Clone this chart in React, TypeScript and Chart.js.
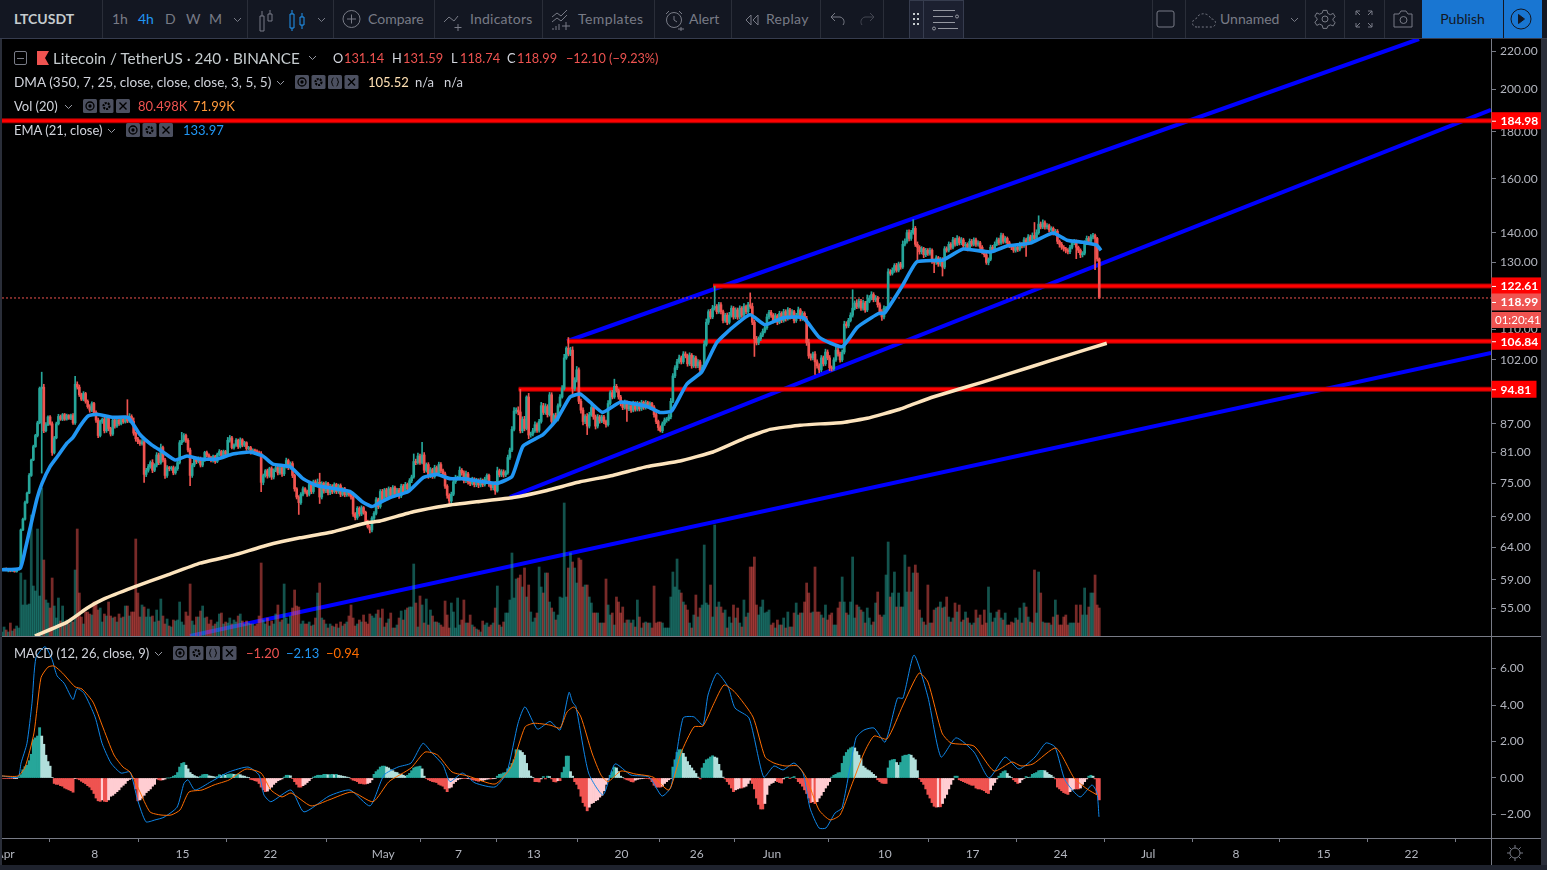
import React, { useEffect, useRef } from "react";
import { Chart, registerables } from "chart.js";

Chart.register(...registerables);

// ---------- time ----------
const firstBarDay = -0.4; // days after 1 Apr
const barsPerDay = 6; // 4h bars
const viewMinDay = -0.4;
const viewMaxDay = 118.34;
const dayTickValues = [-0.15, 7, 14, 21, 30, 36, 42, 49, 55, 61, 70, 77, 84, 91, 98, 105, 112];
const dayTickLabels = ["Apr", "8", "15", "22", "May", "7", "13", "20", "26", "Jun", "10", "17", "24", "Jul", "8", "15", "22"];

// ---------- price ----------
const closes = [
60.5,60.7,60.4,60.6,60.3,60.5,60.2,60.5,60.7,66.8,
68.6,71.5,73.2,76.5,79.5,82.2,84.5,87.2,95.0,95.3,
85.5,86.8,88.5,87.0,81.0,84.0,87.0,88.6,88.0,89.0,
88.0,88.8,88.2,88.8,87.2,96.0,95.3,93.5,92.5,93.8,
92.0,90.8,90.0,91.5,89.5,87.8,84.5,87.5,88.0,85.5,
88.3,86.0,84.8,87.8,86.5,87.8,87.0,88.0,87.4,88.4,
87.6,88.6,87.5,85.0,83.8,83.2,82.8,83.2,76.7,77.5,
78.2,79.0,77.5,78.5,80.5,79.0,82.0,79.5,76.5,78.0,
77.8,78.0,77.0,77.8,79.0,83.0,83.5,84.5,83.5,81.5,
76.5,78.5,79.8,79.2,79.8,78.5,79.5,81.0,80.5,80.0,
79.4,80.2,79.2,80.6,81.2,80.4,81.2,80.7,83.5,84.0,
82.0,82.5,83.5,82.2,83.6,82.5,83.0,81.8,82.0,81.0,
81.5,81.3,81.0,80.8,75.2,76.5,77.4,76.4,77.8,76.2,
77.5,78.0,77.0,78.0,76.8,78.2,79.4,78.0,78.8,76.5,
74.0,72.5,71.5,73.0,74.0,73.5,73.0,74.8,73.5,75.3,
74.7,75.2,72.5,75.0,73.6,75.0,73.3,74.5,73.5,74.8,
73.5,74.6,73.0,74.0,72.9,73.5,73.0,72.5,69.5,68.9,
70.5,69.5,70.6,69.8,68.2,67.3,66.8,68.8,69.6,72.0,
70.8,73.5,72.0,73.8,72.6,74.0,72.8,74.2,73.0,73.8,
72.7,74.5,73.4,74.8,74.0,75.5,76.2,79.2,79.0,80.3,
79.0,80.5,77.5,78.6,76.5,77.6,76.3,78.0,77.0,78.6,
77.4,76.8,74.5,72.8,71.8,73.0,75.3,76.0,76.0,77.5,
77.0,75.5,76.8,75.3,75.0,75.8,74.8,75.6,74.7,75.6,
74.8,75.8,76.5,75.0,74.2,75.0,73.6,77.4,76.6,77.2,
76.6,77.0,80.0,81.5,85.8,89.8,90.0,89.6,85.5,88.0,
86.0,93.0,84.6,84.8,85.5,86.8,85.6,87.5,91.0,89.5,
90.8,89.0,93.5,87.5,88.8,88.0,91.0,93.0,95.0,102.5,
105.0,103.5,104.5,95.0,97.0,99.5,92.0,90.0,87.5,88.6,
86.5,89.0,90.6,88.5,86.5,88.5,87.6,88.5,87.5,86.8,
91.5,94.0,93.0,95.5,94.5,93.0,91.5,90.6,91.8,90.3,
91.0,90.0,91.6,90.2,91.5,90.3,91.8,90.6,91.7,90.9,
91.5,90.7,89.0,87.5,86.2,85.5,87.0,87.8,88.0,88.5,
92.0,98.0,100.0,101.5,102.5,101.5,103.5,103.0,101.0,103.2,
100.5,102.5,100.5,101.5,99.5,100.2,106.0,112.0,115,113.5,
116,116.5,115,117,115,112.5,114,112,114,116,
113.5,115.5,113.5,116,114,116.5,115,117,116.5,112,
107.5,106.5,107.5,108.5,109.5,110.5,113.5,114.8,114,112.5,
113.8,112,114.5,112.5,115,113,115.5,113.5,115,112.5,
114,115.5,113,114.5,113,106.5,103,102.5,103.5,101.5,
100.5,99.5,102.5,101,104,102.5,100,99.8,102,104.5,
103.5,102,104,111.5,111,112.5,114,116,117.5,116.5,
118,116,117.5,115.5,118,119,120,118.5,119,117,
115,113.5,116,116,127,126.5,127.5,129,127.5,129.5,
128.5,136,137,140,138,140,141.5,136,135,133.5,
134.5,132.5,134,133,134,130.5,130,131.5,129.5,131,
128.5,134.5,134,136,135,137.5,136,138,136.5,137.5,
135.5,136,134.5,137,136,137.5,136,136.5,135,133.5,
132.5,130,131,135,134,136,137.5,136.5,139,137,
138,136.5,135.5,135,134,135,134.3,136,135.5,137.5,
136.5,138.5,137,139,138,140,143,142,143.5,142,
142.5,141,141.5,140,140.5,137,136,135,134.5,134,
133.5,135,136.5,137,135,134,132.5,133,136.5,138,
137,138.5,139,138,131.14,118.99,
];

// upper and lower wick lengths, in tenths of a percent of the candle body edge
const upperWicks = [
2,1,2,1,2,1,2,1,3,4, 5,6,5,8,4,6,5,7,6,38, 12,9,5,6,8,6,7,9,6,5, 5,6,4,6,8,20,10,9,7,8,
5,6,8,7,5,6,8,6,5,9, 6,8,5,6,7,4,6,5,4,6, 45,12,7,15,5,6,8,9,10,8, 9,7,12,6,10,8,15,6,7,9,
5,6,7,8,6,9,20,8,6,7, 8,7,6,5,7,6,8,5,6,5, 5,6,5,6,8,5,6,5,12,10, 6,5,7,5,8,5,6,4,5,5,
5,4,5,6,8,6,5,7,6,8, 6,7,5,8,6,7,10,6,7,8, 6,5,6,7,8,5,6,9,6,7, 8,14,23,7,6,8,5,7,6,7,
5,6,7,5,6,6,5,6,8,6, 7,6,8,5,5,6,7,6,8,9, 7,8,9,6,7,8,6,9,7,6, 6,8,7,9,6,9,8,19,10,12,
8,32,10,7,8,9,6,10,7,10, 8,7,8,6,7,9,10,12,8,14, 7,8,12,6,7,8,6,8,6,9, 5,8,7,6,5,6,8,15,7,9,
8,9,10,8,12,14,10,14,58,10, 12,5,15,8,10,12,8,9,14,10, 12,8,10,9,8,10,8,10,12,15, 6,27,12,14,10,14,8,9,10,8,
12,10,10,9,8,10,7,8,7,6, 12,8,10,18,8,6,7,8,9,6, 7,6,8,6,9,6,8,5,9,6, 7,5,6,8,6,7,8,9,7,10,
12,10,9,10,12,8,10,9,8,10, 7,10,8,9,7,8,15,14,8,10, 12,52,8,10,9,7,8,9,12,10, 7,9,8,10,7,12,6,10,30,14,
8,10,8,9,10,12,12,8,9,7, 10,6,9,7,10,8,10,7,9,6, 8,12,6,8,7,10,14,9,8,10, 8,9,10,8,12,9,10,8,9,12,
10,8,9,12,10,9,10,47,9,14, 9,8,12,7,16,10,12,8,10,7, 8,9,10,8,12,9,10,8,9,8, 7,14,10,11,12,10,22,8,10,7,
9,6,8,7,9,6,7,9,6,8, 7,9,8,10,7,11,8,12,7,10, 7,8,6,10,8,9,7,8,6,7, 7,8,6,9,8,10,9,7,10,8,
8,6,7,6,8,7,8,9,7,10, 8,10,8,11,33,12,21,9,12,8, 8,6,7,6,8,7,6,8,7,6, 7,8,9,8,6,5,6,7,9,10,
8,10,9,6,5,4,
];
const lowerWicks = [
2,3,2,6,3,2,2,2,1,2, 3,4,3,2,4,3,3,6,4,190, 8,5,4,6,12,6,4,5,5,6, 5,4,5,6,6,6,8,7,6,7,
8,7,9,6,7,10,9,6,8,9, 7,10,8,6,9,6,7,5,6,5, 7,6,8,9,10,8,7,6,20,9, 8,7,10,6,8,9,7,8,12,8,
9,7,8,6,7,6,8,7,9,8, 25,8,7,9,6,8,7,6,8,7, 6,7,8,5,6,7,5,6,7,8, 6,7,5,8,6,7,6,8,5,7,
5,6,7,8,23,10,7,9,6,10, 8,6,9,7,10,7,6,8,7,9, 10,8,29,8,7,8,9,7,9,8, 7,8,16,8,9,7,10,8,9,7,
9,8,10,7,8,7,8,9,10,10, 8,9,7,8,9,5,12,8,7,6, 9,7,8,7,9,7,8,7,9,7, 10,7,8,6,7,6,8,5,9,7,
8,6,10,8,12,9,8,7,9,7, 8,9,10,12,15,9,6,7,9,8, 10,9,8,10,9,7,10,9,11,8, 9,7,9,12,10,9,14,5,8,7,
9,7,6,8,7,6,10,12,9,8, 10,6,15,9,8,7,9,8,7,9, 8,10,6,12,9,10,7,6,5,7, 6,8,7,16,9,8,10,12,14,9,
21,8,7,10,12,8,9,7,9,10, 6,7,8,6,7,9,10,9,7,31, 8,9,7,8,7,9,7,8,7,8, 7,9,10,9,12,5,8,7,9,7,
8,6,7,8,7,9,7,8,10,7, 10,7,9,8,10,8,6,7,9,8, 7,8,9,7,9,10,8,10,7,8, 9,7,10,7,9,6,8,7,8,10,
43,10,9,8,7,6,7,8,9,10, 7,10,6,9,7,10,6,9,7,10, 8,6,9,7,10,12,10,9,8,31, 10,12,8,9,7,8,12,10,7,6,
9,10,7,8,9,7,6,8,7,9, 7,9,8,10,7,6,8,9,8,10, 12,14,8,9,6,8,7,9,8,7, 9,6,7,8,10,8,7,9,36,10,
9,12,8,9,8,10,25,8,10,9, 22,7,8,7,9,7,8,6,9,8, 10,8,9,7,8,7,9,8,10,9, 9,8,10,6,8,7,6,9,7,9,
7,9,8,10,9,8,9,7,9,7, 33,7,9,7,8,6,7,8,7,9, 8,9,7,10,8,10,12,9,10,11, 9,8,7,8,28,10,12,9,7,8,
9,7,8,75,9,2,
];

// volume, thousands
const volumes = [
12,27,18,12,39,15,21,30,24,189, 93,168,93,96,363,150,135,321,120,444, 228,108,99,84,174,90,54,114,45,90, 36,48,36,54,42,198,321,129,57,36,
72,72,66,63,102,102,78,84,42,66, 60,102,60,54,57,42,66,54,57,90, 90,60,72,72,291,129,57,93,87,57, 81,57,60,42,78,45,111,60,36,51,
30,27,48,45,48,102,42,33,72,60, 156,45,33,57,57,75,90,54,57,36, 48,30,36,42,66,69,36,42,39,54, 36,48,42,60,66,45,36,45,39,36,
36,30,36,60,219,48,36,54,30,45, 36,66,93,42,48,156,54,36,60,84, 138,90,87,36,45,36,36,42,30,33, 54,129,159,54,48,36,24,36,30,27,
36,24,42,30,36,42,60,93,54,30, 36,48,42,63,42,36,66,60,54,66, 78,54,81,27,39,51,69,24,24,33, 54,75,48,78,84,87,87,216,99,27,
120,93,39,111,33,78,60,42,42,39, 33,27,105,63,24,99,72,24,114,33, 48,108,39,39,63,33,27,21,18,12, 45,33,39,27,33,39,84,150,33,27,
42,69,69,108,249,114,171,174,183,147, 204,117,153,72,42,54,69,207,147,129, 189,189,102,84,72,48,63,117,114,399, 117,204,249,222,204,159,234,228,147,153,
153,117,99,69,69,69,39,39,39,171, 93,63,69,33,117,102,69,87,39,48, 48,39,48,27,108,57,24,39,42,39, 39,24,150,39,42,42,39,24,24,24,
117,192,147,231,138,129,102,93,78,39, 24,63,123,57,84,93,273,99,93,153, 57,333,87,102,87,69,78,24,57,39, 93,54,84,39,27,108,57,69,207,207,
237,93,63,87,108,69,72,78,33,39, 24,48,33,33,54,24,72,27,27,69, 99,63,69,69,102,159,129,69,72,207, 72,72,63,54,93,48,63,69,33,33,
84,102,177,102,69,63,102,237,54,93, 87,78,72,39,84,54,33,42,99,132, 63,57,63,183,282,117,129,192,87,129, 87,87,243,132,207,132,189,213,189,78,
54,42,33,153,39,39,78,84,87,102, 84,87,117,57,42,54,99,72,93,42, 48,72,54,39,33,39,78,54,63,33, 78,39,147,69,42,54,72,78,54,48,
69,33,33,42,39,54,48,84,39,99, 87,57,42,39,198,69,192,129,42,39, 39,39,33,57,108,63,33,33,57,63, 33,39,39,39,93,39,93,63,144,63,
87,129,129,183,93,84,
];

// ---------- moving averages ----------
const emaDays = [-0.4,1.04,1.44,1.83,2.39,2.79,3.43,3.99,4.78,5.26,5.82,6.46,7.18,8.45,9.65,10.6,11.56,12.44,13.4,14.35,15.39,16.75,18.0,19.38,20.4,21.2,22.57,23.6,24.7,27.35,28.3,29.1,29.74,30.54,32.0,33.2,34.3,35.3,36.36,37.96,39.07,40.27,41.15,42.74,43.86,44.9,45.7,46.5,47.5,48.9,51.0,52.07,53.0,54.2,55.4,56.6,57.66,59.25,60.45,61.9,63.5,64.8,66.6,67.8,69.46,70.0,71.45,72.56,74.64,76.24,78.4,79.75,81.6,83.4,84.53,85.8,86.9,87.24];
const emaValues = [60.5,60.7,63.5,67.0,72.2,75.0,78.2,80.1,82.9,84.1,86.5,88.7,89.1,88.4,88.4,84.7,82.5,81.1,79.5,80.3,79.7,79.7,80.7,81.1,80.3,78.7,78.2,75.9,74.6,73.5,71.7,70.8,71.5,72.4,73.5,76.1,76.7,75.9,75.9,75.3,75.0,76.3,82.3,84.7,88.0,93.0,93.7,91.8,89.5,91.8,90.9,89.5,89.8,96.0,99.0,106.5,110,114.1,111.3,113.3,113.3,107.8,105.4,110.6,114.4,114.7,123,130.2,130.8,134.4,133.4,135.4,136.4,139.9,137.4,136.7,135.7,133.97];

const dmaDays = [2.23,4.8,6.4,7.65,10.05,12.76,15.4,18.02,20.73,23.37,26.0,28.7,29.74,32.4,35.1,37.7,40.35,43.06,45.7,48.3,51.0,53.67,56.3,59.0,60.85,63.24,66.67,68.6,71.2,73.84,77.8,81.8,84.5,87.7];
const dmaValues = [51.3,53.1,55,56.2,57.9,59.7,61.5,62.7,64.3,65.5,66.5,68.0,68.3,69.9,71.0,71.7,72.4,73.7,75.3,76.5,78.2,79.3,81.1,84.1,85.8,86.7,87.3,88.2,90.2,93.0,96.5,100.4,103.1,106.3];

// ---------- drawings ----------
const channelLines = [
  { days: [44.66, 112.6], prices: [106.84, 226.7] },
  { days: [40.11, 118.34], prices: [72.5, 190.0] },
  { days: [14.59, 118.34], prices: [51.3, 103.8] },
];
const levelLines = [
  { from: -0.4, price: 184.98 },
  { from: 56.3, price: 122.61 },
  { from: 44.66, price: 106.84 },
  { from: 40.8, price: 94.81 },
];
const lastPrice = 118.99;

// ---------- axis ----------
const priceTicks = [220, 200, 180, 160, 140, 130, 120, 110, 102, 87, 81, 75, 69, 64, 59, 55];
const macdTicks = [6, 4, 2, 0, -2];
const levelBadges = [184.98, 122.61, 106.84, 94.81];
const priceMin = 51.3;
const priceMax = 226.7;
const volumeMax = 1791;
const macdMin = -3.29;
const macdMax = 7.73;

// ---------- MACD ----------
const macdDays = [-0.4,.88,1.12,1.59,1.99,2.31,3.03,3.59,3.99,4.55,5.26,5.58,6.14,7.02,7.58,8.29,9.09,9.81,10.41,11.08,11.8,12.52,13.56,14.11,14.43,14.99,16.27,17.7,19.22,20.1,20.49,21.05,22.65,23.68,25.68,27.35,28.95,30.06,31.18,32.22,33.17,33.89,34.77,35.33,36.32,37.32,38.92,39.87,40.75,41.31,42.3,43.3,44.1,44.82,45.1,45.37,46.38,47.53,48.48,49.76,51.2,52.23,52.95,53.91,54.78,55.5,55.9,56.62,57.5,58.05,59.17,60.34,61.16,61.88,62.76,63.48,64.03,64.75,65.31,66.03,66.59,67.7,68.34,69.14,70.02,71.01,71.45,72.33,73.44,74.48,75.68,77.11,78.31,79.59,80.7,81.98,82.85,83.57,84.37,85.57,86.52,86.92,87.08];
const macdValues = [.11,.05,.82,1.9,4.1,6.6,7.2,6.5,5.6,5.2,4.3,4.9,4.65,3.35,1.9,.82,.27,.33,-1.2,-2.4,-2.3,-2.15,-1.6,-.3,-.1,-.66,-.2,.33,.6,.16,-.93,-1.3,-.66,-1.86,-.99,-.66,-1.53,.16,.6,.82,1.9,1.37,.71,-.2,.27,-.27,-.49,.33,3.0,3.9,2.68,3.1,2.63,4.7,4.16,3.9,.27,-.93,.77,.16,.05,-.99,-.49,3.29,3.35,2.9,4.55,5.75,5.0,3.84,3.29,.05,.66,.44,.82,.27,-1.64,-2.74,-2.74,-1.92,-1.64,2.2,2.63,2.74,1.97,4.38,4.38,6.74,4.44,1.15,2.2,1.42,0,1.15,.49,1.15,1.92,1.7,-.11,-1.04,-.38,-.82,-2.13];

const signalDays = [-.4,.88,1.44,2.15,2.71,3.27,3.75,4.43,5.42,5.98,6.86,7.58,8.53,9.25,9.81,10.53,11.4,12.28,13.08,13.8,14.51,15.55,16.51,17.7,19.06,20.26,21.05,21.93,22.65,24.24,25.68,27.51,29.19,30.46,32.22,33.33,34.33,35.49,36.76,38.92,40.19,41.31,42.03,43.3,44.1,44.66,45.22,45.77,46.65,47.37,47.93,48.96,50.08,51.52,52.79,53.75,54.78,55.5,56.38,57.18,58.05,59.49,60.45,61.16,62.04,63.04,63.71,64.75,65.63,66.43,67.3,68.34,69.14,70.18,71.45,72.73,73.44,74.56,75.28,77.11,78.71,80.14,80.86,81.82,83.65,85.09,86.12,86.96];
const signalValues = [.11,.11,.6,2.47,5.5,6.08,6.14,5.75,5.0,4.88,4.16,2.9,1.26,.6,.33,-.66,-1.86,-2.03,-2.03,-1.75,-.77,-.66,-.38,-.11,.49,.27,-.66,-1.04,-.82,-1.53,-1.2,-.77,-1.3,-.2,.55,1.42,1.26,.33,.11,-.33,.6,2.8,3.0,2.9,2.74,3.62,3.89,3.34,1.37,.16,-.2,.38,.22,.05,-.66,1.37,2.8,2.85,4.1,5.1,4.7,3.34,1.15,.82,.66,.66,.05,-1.75,-2.3,-2.03,-.49,1.37,2.3,2.14,4.0,5.75,5.26,2.47,1.92,1.75,.38,.88,.66,.77,1.64,0,-.6,-.94];

const histogram = [
-.03,-.03,-.03,-.03,-.03,-.03,-.02,-.01,.05,.18, .45,.62,.7,.95,1.3,2.1,2.2,2.3,2.76,2.3,
1.85,1.25,.9,.65,.02,-.3,-.35,-.35,-.42,-.45, -.55,-.6,-.65,-.7,-.78,-.02,-.05,-.1,-.18,-.25,
-.32,-.42,-.5,-.65,-.85,-1.1,-1.25,-1.28,-1.2,-1.28, -1.3,-1.2,-1,-.95,-.85,-.75,-.65,-.5,-.4,-.3,
-.15,-.08,-.03,-.02,-.6,-1.25,-1.2,-1.1,-.95,-.8, -.7,-.6,-.45,-.35,-.05,-.1,-.12,-.1,-.06,0,
0,.02,.1,.15,.3,.6,.8,.85,.7,.5, .3,.2,.13,.08,.05,.1,.18,.2,.2,.12,
.1,.08,.05,.08,.18,.13,.2,.15,.2,.22, .22,.2,.2,.22,.18,.12,.1,.05,.02,-.08,
-.1,-.15,-.18,-.3,-.5,-.65,-.75,-.72,-.6,-.5, -.35,-.25,-.15,-.1,-.05,.05,.15,.15,.12,-.03,
-.2,-.35,-.5,-.5,-.42,-.35,-.25,-.15,-.03,.05, .1,.15,.15,.15,.2,.2,.18,.18,.2,.18,
.2,.15,.13,.1,.08,.05,.03,-.05,-.12,-.15, -.2,-.3,-.3,-.33,-.33,-.3,-.25,-.1,.2,.35,
.45,.6,.65,.65,.6,.55,.45,.4,.32,.3, .22,.2,.15,.1,.15,.25,.4,.55,.6,.62,
.65,.5,.1,-.03,-.1,-.15,-.2,-.22,-.25,-.35, -.4,-.45,-.6,-.75,-.55,-.5,-.3,-.2,-.1,-.05,
-.03,-.03,-.03,-.02,-.05,-.1,-.12,-.15,-.18,-.15, -.13,-.1,-.07,-.05,-.05,-.04,-.03,.1,.2,.22,
.28,.3,.5,.6,.8,1,1.55,1.55,1.5,1.4, 1.25,.8,.4,.1,.02,-.2,-.2,-.22,-.05,.08,
-.05,.1,.08,-.05,-.2,-.22,-.15,-.15,.3,.6, 1.2,1.2,.35,.1,-.2,-.35,-.6,-1,-1.35,-1.55,
-1.8,-1.6,-1.4,-1.35,-1.25,-1.2,-1.05,-.95,-.7,-.35, -.1,.15,.35,.6,.55,.35,.1,.03,-.05,-.1,
-.13,-.2,-.22,-.12,-.08,-.05,-.04,-.03,-.03,-.03, -.05,-.2,-.4,-.5,-.5,-.5,-.45,-.3,-.2,-.1,
-.03,.6,1,1.4,1.55,1.55,1.35,1.15,.9,.7, .55,.4,.25,.05,-.05,.55,.8,1,1.05,1.15,
1.22,1.15,1.1,.75,.4,.05,-.05,-.2,-.35,-.55, -.75,-.65,-.6,-.55,-.55,-.5,-.45,-.3,-.12,-.3,
-.6,-1.1,-1.45,-1.7,-1.7,-1.4,-.9,-.4,-.3,-.25, -.15,-.2,-.25,-.28,-.05,.02,.05,-.02,.02,.08,
-.03,-.2,-.3,-.45,-.65,-.85,-1.1,-1.35,-1.3,-1.4, -1.3,-1.1,-.95,-.75,-.55,-.4,-.2,.05,.15,.2,
.28,.3,.8,1.2,1.4,1.55,1.65,1.7,1.65,1.45, 1.25,1.05,.65,.55,.45,.4,.3,.2,.1,-.1,
-.2,-.28,-.3,-.3,.55,.95,1,1.02,.85,.7, .85,1.2,1.25,1.25,1.3,1.25,1.1,1,.4,-.05,
-.2,-.35,-.6,-.9,-1.1,-1.35,-1.55,-1.6,-1.58,-1.58, -1.4,-1.1,-.9,-.6,-.35,-.1,.1,.1,-.1,-.15,
-.2,-.25,-.3,-.35,-.4,-.4,-.55,-.6,-.6,-.65, -.7,-.8,-.85,-.65,-.4,-.25,-.05,.1,.25,.35,
.4,.25,.1,.03,-.1,-.2,-.3,-.25,-.1,-.03, .08,.03,.05,.2,.25,.3,.4,.42,.42,.4,
.3,.2,.15,.05,-.05,-.5,-.6,-.7,-.8,-.85, -.9,-.75,-.65,-.6,-.6,-.6,-.55,-.35,-.2,-.05,
.1,.15,.1,-.05,-.9,-1.2,
];

// ---------- styles ----------
const FONT = "Lato, 'Open Sans', sans-serif";
const UP = "#26a69a";
const DOWN = "#ef5350";
const AXIS = "#787b86";
const TICK_TEXT = "#b2b5be";
const BLUE_LINE = "#0000ff";
const RED_LINE = "#ff0000";

const barDay = (i: number) => firstBarDay + i / barsPerDay;
const opens = closes.map((c, i) => (i === 0 ? c : closes[i - 1]));
const isUp = closes.map((c, i) => c >= opens[i]);
const candleColors = isUp.map((u) => (u ? UP : DOWN));
const volumeColors = isUp.map((u) => (u ? "rgba(38,166,154,0.5)" : "rgba(239,83,80,0.5)"));
const histColors = histogram.map((h, i) => {
  const prev = i === 0 ? 0 : histogram[i - 1];
  if (h >= 0) return h >= prev ? "#26a69a" : "#b2dfdb";
  return h <= prev ? "#ef5350" : "#ffcdd2";
});

const zip = (xs: number[], ys: number[]) => xs.map((x, i) => ({ x, y: ys[i] }));
const wickShare = (w: number) => (w <= 15 ? w * 0.6 : w) / 1000;

const stripPadding = (s: any) => {
  s.paddingLeft = 0;
  s.paddingRight = 0;
  s.paddingTop = 0;
  s.paddingBottom = 0;
};

const lineBase = { type: "line" as const, pointRadius: 0, pointHoverRadius: 0, fill: false };

function badge(ctx: CanvasRenderingContext2D, x: number, y: number, w: number, h: number, bg: string, text: string) {
  ctx.save();
  ctx.fillStyle = bg;
  ctx.fillRect(x, y - h / 2, w, h);
  ctx.fillStyle = "#ffffff";
  ctx.font = `bold 12px ${FONT}`;
  ctx.textBaseline = "middle";
  ctx.textAlign = "left";
  ctx.fillText(text, x + 9, y + 0.5);
  ctx.restore();
}

const badgePlugin = {
  id: "priceBadges",
  afterDraw(chart: any) {
    const { ctx } = chart;
    const y = chart.scales.y;
    const x = chart.chartArea.right;
    levelBadges.forEach((p) => {
      const py = y.getPixelForValue(p);
      const w = p === 94.81 ? 45 : 56;
      badge(ctx, x + 0.5, py, w, 17, RED_LINE, p.toFixed(2));
      ctx.fillStyle = "#ffffff";
      ctx.fillRect(x + 1, py, 4, 1);
    });
    const lp = y.getPixelForValue(lastPrice);
    badge(ctx, x + 0.5, lp + 4, 56, 17, DOWN, lastPrice.toFixed(2));
    ctx.fillStyle = "#ffffff";
    ctx.fillRect(x + 1, lp + 4, 4, 1);
    ctx.fillStyle = DOWN;
    ctx.fillRect(x + 0.5, lp + 14, 56, 16);
    ctx.fillStyle = "#ffffff";
    ctx.font = `11.5px ${FONT}`;
    ctx.textBaseline = "middle";
    ctx.textAlign = "left";
    ctx.fillText("01:20:41", x + 4, lp + 22.5);
  },
};

function usePriceChart(ref: React.RefObject<HTMLCanvasElement | null>) {
  useEffect(() => {
    const hi = (i: number) => Math.max(opens[i], closes[i]) * (1 + wickShare(upperWicks[i]));
    const lo = (i: number) => Math.min(opens[i], closes[i]) * (1 - wickShare(lowerWicks[i]));
    const barIdx = closes.map((_, i) => i);
    const chart = new Chart(ref.current as HTMLCanvasElement, {
      type: "bar",
      plugins: [badgePlugin],
      data: {
        datasets: [
          { ...lineBase, order: 1, data: zip(dmaDays, dmaValues), borderColor: "#fde4bd", borderWidth: 3.5, tension: 0.1, yAxisID: "y" },
          { ...lineBase, order: 2, data: zip(emaDays, emaValues), borderColor: "#2196f3", borderWidth: 3.6, tension: 0.15, yAxisID: "y" },
          { order: 3, data: barIdx.map((i) => ({ x: barDay(i), y: [opens[i], closes[i]] })), backgroundColor: candleColors, barThickness: 2, minBarLength: 1, grouped: false, yAxisID: "y" },
          { order: 4, data: barIdx.map((i) => ({ x: barDay(i), y: [lo(i), hi(i)] })), backgroundColor: candleColors, barThickness: 1, grouped: false, yAxisID: "y" },
          { order: 5, data: barIdx.map((i) => ({ x: barDay(i), y: volumes[i] })), backgroundColor: volumeColors, barThickness: 2.09, grouped: false, yAxisID: "vol" },
          { ...lineBase, order: 6, data: [{ x: viewMinDay, y: lastPrice }, { x: viewMaxDay, y: lastPrice }], borderColor: DOWN, borderWidth: 1, borderDash: [2, 2], yAxisID: "y" },
          ...levelLines.map((l) => ({ ...lineBase, order: 7, data: [{ x: l.from, y: l.price }, { x: viewMaxDay, y: l.price }], borderColor: RED_LINE, borderWidth: 3, yAxisID: "y" })),
          ...levelLines.map((l) => ({ ...lineBase, order: 8, data: [{ x: l.from, y: l.price }, { x: viewMaxDay, y: l.price }], borderColor: "#a00000", borderWidth: 5, yAxisID: "y" })),
          ...channelLines.map((l) => ({ ...lineBase, order: 9, data: zip(l.days, l.prices), borderColor: BLUE_LINE, borderWidth: 4, yAxisID: "y" })),
        ],
      } as any,
      options: {
        animation: false,
        responsive: false,
        devicePixelRatio: 1,
        layout: { padding: { left: 2, right: 0, top: 0, bottom: 0 } },
        plugins: { legend: { display: false }, tooltip: { enabled: false } },
        events: [],
        scales: {
          x: { type: "linear", min: viewMinDay, max: viewMaxDay, display: false, offset: false, grid: { display: false } },
          vol: { type: "linear", min: 0, max: volumeMax, display: false, grid: { display: false } },
          y: {
            type: "logarithmic",
            position: "right",
            min: priceMin,
            max: priceMax,
            bounds: "data",
            afterBuildTicks: (s: any) => {
              s.ticks = priceTicks.map((value) => ({ value }));
            },
            afterFit: (s: any) => {
              s.width = 56;
              stripPadding(s);
            },
            border: { color: AXIS, width: 1 },
            grid: { drawOnChartArea: false, drawTicks: true, tickLength: 5, color: AXIS },
            ticks: {
              autoSkip: false,
              padding: 4,
              color: TICK_TEXT,
              font: { family: FONT, size: 12 },
              callback: (v: any) => Number(v).toFixed(2),
            },
          },
        },
      } as any,
    });
    return () => chart.destroy();
  }, [ref]);
}

function useMacdChart(ref: React.RefObject<HTMLCanvasElement | null>) {
  useEffect(() => {
    const chart = new Chart(ref.current as HTMLCanvasElement, {
      type: "bar",
      data: {
        datasets: [
          { ...lineBase, order: 1, data: zip(signalDays, signalValues), borderColor: "#ff6d00", borderWidth: 1, tension: 0.2 },
          { ...lineBase, order: 2, data: zip(macdDays, macdValues), borderColor: "#0f86e8", borderWidth: 1, tension: 0.2 },
          { order: 3, data: histogram.map((h, i) => ({ x: barDay(i), y: h })), backgroundColor: histColors, barThickness: 2.2, grouped: false },
        ],
      } as any,
      options: {
        animation: false,
        responsive: false,
        devicePixelRatio: 1,
        layout: { padding: { left: 2, right: 0, top: 0, bottom: 0 } },
        plugins: { legend: { display: false }, tooltip: { enabled: false } },
        events: [],
        scales: {
          x: {
            type: "linear",
            min: viewMinDay,
            max: viewMaxDay,
            offset: false,
            afterBuildTicks: (s: any) => {
              s.ticks = dayTickValues.map((value) => ({ value }));
            },
            afterFit: (s: any) => {
              s.height = 27;
              stripPadding(s);
            },
            border: { color: AXIS, width: 1 },
            grid: { drawOnChartArea: false, drawTicks: true, tickLength: 4, color: AXIS },
            ticks: {
              autoSkip: false,
              maxRotation: 0,
              padding: 5,
              color: TICK_TEXT,
              font: { family: FONT, size: 12 },
              callback: (v: any) => dayTickLabels[dayTickValues.indexOf(Number(v))] ?? "",
            },
          },
          y: {
            type: "linear",
            position: "right",
            min: macdMin,
            max: macdMax,
            afterBuildTicks: (s: any) => {
              s.ticks = macdTicks.map((value) => ({ value }));
            },
            afterFit: (s: any) => {
              s.width = 56;
              stripPadding(s);
            },
            border: { color: AXIS, width: 1 },
            grid: { drawOnChartArea: false, drawTicks: true, tickLength: 5, color: AXIS },
            ticks: {
              autoSkip: false,
              padding: 4,
              color: TICK_TEXT,
              font: { family: FONT, size: 12 },
              callback: (v: any) => (Number(v) < 0 ? "\u2212" + Math.abs(Number(v)).toFixed(2) : Number(v).toFixed(2)),
            },
          },
        },
      } as any,
    });
    return () => chart.destroy();
  }, [ref]);
}

// ---------- chrome ----------
const TB = "#787b86";
const abs = (left: number, top: number, extra: React.CSSProperties = {}): React.CSSProperties => ({
  position: "absolute",
  left,
  top,
  whiteSpace: "nowrap",
  ...extra,
});

const Sep = ({ x }: { x: number }) => <div style={abs(x, 0, { width: 1, height: 38, background: "#2a2e39" })} />;
const TbText = ({ x, children, color = TB, size = 14, weight = 400, spacing = 0 }: any) => (
  <span style={abs(x, 9, { color, fontSize: size, fontWeight: weight, lineHeight: "20px", letterSpacing: spacing })}>{children}</span>
);
const Icon = ({ x, y = 8, w = 22, h = 22, children }: any) => (
  <svg style={abs(x, y)} width={w} height={h} viewBox={`0 0 ${w} ${h}`} fill="none" stroke={TB} strokeWidth="1">
    {children}
  </svg>
);
const Chevron = ({ x, y, color = TB }: any) => (
  <svg style={abs(x, y)} width="9" height="6" viewBox="0 0 9 6" fill="none" stroke={color} strokeWidth="1">
    <path d="M1 1l3.5 3.5L8 1" />
  </svg>
);

const Toolbar = () => (
  <div style={abs(0, 0, { width: 1547, height: 38, background: "#131722", fontFamily: FONT })}>
    <span style={abs(14, 9, { color: "#c5cbce", fontWeight: 700, fontSize: 14, lineHeight: "20px" })}>LTCUSDT</span>
    <Sep x={102} />
    <TbText x={112}>1h</TbText>
    <TbText x={138} color="#2196f3">4h</TbText>
    <TbText x={165}>D</TbText>
    <TbText x={186}>W</TbText>
    <TbText x={209}>M</TbText>
    <Chevron x={233} y={17} />
    <Sep x={247} />
    <Icon x={257} h={26}>
      <path d="M3 8h4v15H3zM5 3v5M11 6h4v7h-4zM13 2v4" />
    </Icon>
    <svg style={abs(287, 8)} width="22" height="24" viewBox="0 0 22 24" fill="none" stroke="#2196f3" strokeWidth="1">
      <path d="M3 6h4v14H3zM5 2v4M5 20v3M13 9h4v8h-4zM15 5v4M15 17v4" />
    </svg>
    <Chevron x={317} y={17} />
    <Sep x={333} />
    <Icon x={341}>
      <circle cx="10.5" cy="11" r="8.5" />
      <path d="M10.5 6.5v9M6 11h9" />
    </Icon>
    <TbText x={368}>Compare</TbText>
    <Sep x={434} />
    <Icon x={443} h={26}>
      <path d="M1 14l5-5 5 4 4-5M15 16v7M11.5 19.5h7" />
    </Icon>
    <TbText x={470} spacing={0.2}>Indicators</TbText>
    <Sep x={542} />
    <Icon x={551} h={26}>
      <path d="M1 9l5-4 4 3 6-6M1 14l5-4 4 3 6-6M2 22v-2M5 22v-4M8 22v-6M15 14v8M11 18h8" />
    </Icon>
    <TbText x={578} spacing={0.4}>Templates</TbText>
    <Sep x={654} />
    <Icon x={663} h={26}>
      <circle cx="11" cy="12" r="7.5" />
      <path d="M11 8v4l3 2M3 6l3-3M19 6l-3-3M18 19v4M15 21h6" />
    </Icon>
    <TbText x={689}>Alert</TbText>
    <Sep x={731} />
    <Icon x={743}>
      <path d="M8 7l-5 5 5 5zM15 7l-5 5 5 5z" />
    </Icon>
    <TbText x={766} spacing={0.3}>Replay</TbText>
    <Sep x={820} />
    <Icon x={827}>
      <path d="M5 9h8a5 5 0 0 1 3 8M8 5L4 9l4 4" />
    </Icon>
    <svg style={abs(856, 8)} width="22" height="22" viewBox="0 0 22 22" fill="none" stroke="#434651" strokeWidth="1">
      <path d="M17 9H9a5 5 0 0 0-3 8M14 5l4 4-4 4" />
    </svg>
    <Sep x={883} />
    <div style={abs(909, 0, { width: 55, height: 39, background: "#1c2030", border: "1px solid #363c4e", boxSizing: "border-box" })} />
    <div style={abs(923, 0, { width: 1, height: 39, background: "#363c4e" })} />
    <svg style={abs(913, 12)} width="8" height="16" viewBox="0 0 8 16" fill="#c5cbce">
      <rect x="0" y="1" width="2" height="2" /><rect x="4" y="1" width="2" height="2" />
      <rect x="0" y="6" width="2" height="2" /><rect x="4" y="6" width="2" height="2" />
      <rect x="0" y="11" width="2" height="2" /><rect x="4" y="11" width="2" height="2" />
    </svg>
    <svg style={abs(930, 8)} width="30" height="24" viewBox="0 0 30 24" fill="none" stroke="#9598a1" strokeWidth="1">
      <path d="M3 2.5h22M3 14.5h22M8 20.5h20M3 8.5h20" />
      <circle cx="27" cy="8.5" r="1.5" /><circle cx="4" cy="20.5" r="1.5" />
    </svg>
    <Sep x={1152} />
    <Icon x={1155}>
      <rect x="2" y="3" width="17" height="16" rx="2" />
    </Icon>
    <Sep x={1185} />
    <svg style={abs(1192, 9)} width="26" height="20" viewBox="0 0 26 20" fill="none" stroke={TB} strokeWidth="1" strokeDasharray="2 2">
      <path d="M5 18a4 4 0 0 1-1-8 8 8 0 0 1 15 0 4 4 0 0 1 1 8z" />
    </svg>
    <TbText x={1220}>Unnamed</TbText>
    <Chevron x={1290} y={17} />
    <Sep x={1305} />
    <Icon x={1314}>
      <circle cx="11" cy="11" r="3" />
      <path d="M9 2h4l.7 3 2.7 1.3 2.8-1.3 2 3.4-2.3 2 .1 1.7 2.2 2-2 3.4-2.8-1-2.7 1.3L13 20H9l-.7-3-2.7-1.3-2.8 1.3-2-3.4 2.3-2-.1-1.7-2.2-2 2-3.4 2.8 1.3 2.7-1.3z" transform="translate(0 0.4)" />
    </Icon>
    <Sep x={1344} />
    <Icon x={1353}>
      <path d="M3 7V3h4M19 7V3h-4M3 15v4h4M19 15v4h-4M3 3l4 4M19 3l-4 4M3 19l4-4M19 19l-4-4" />
    </Icon>
    <Sep x={1384} />
    <Icon x={1392}>
      <path d="M2 6h5l2-3h5l2 3h4v13H2z" />
      <circle cx="11.5" cy="12" r="3.5" />
    </Icon>
    <div style={abs(1422, 0, { width: 81, height: 38, background: "#1976d2", color: "#131722", fontSize: 14, lineHeight: "38px", textAlign: "center" })}>Publish</div>
    <div style={abs(1504, 0, { width: 38, height: 38, background: "#1976d2" })} />
    <svg style={abs(1510, 8)} width="22" height="22" viewBox="0 0 22 22" fill="none" stroke="#131722" strokeWidth="1">
      <circle cx="11" cy="11" r="10" />
      <path d="M8.5 6.5l6 4.5-6 4.5z" fill="#131722" />
    </svg>
  </div>
);

const IconBoxes = ({ x, y, n }: { x: number; y: number; n: number }) => (
  <svg style={abs(x, y)} width={n * 16.5} height="14" viewBox={`0 0 ${n * 16.5} 14`}>
    {Array.from({ length: n }).map((_, i) => (
      <g key={i} transform={`translate(${i * 16.5} 0)`}>
        <rect width="14" height="14" rx="1.5" fill="#4c5060" />
        {i === n - 1 ? (
          <path d="M3.5 3.5l7 7M10.5 3.5l-7 7" stroke="#000" strokeWidth="1.4" />
        ) : i === 2 && n === 4 ? (
          <path d="M5.5 3c-1.5 0-1 3-2 4 1 1 .5 4 2 4M8.5 3c1.5 0 1 3 2 4-1 1-.5 4-2 4" stroke="#000" strokeWidth="1" fill="none" />
        ) : i === 0 ? (
          <g fill="none" stroke="#000" strokeWidth="1.3"><circle cx="7" cy="7" r="4" /><circle cx="7" cy="7" r="1" fill="#000" /></g>
        ) : (
          <circle cx="7" cy="7" r="3" fill="none" stroke="#000" strokeWidth="2.2" strokeDasharray="2 1" />
        )}
      </g>
    ))}
  </svg>
);

const L = ({ x, y, color = "#d1d4dc", size = 13, children }: any) => (
  <span style={abs(x, y - 9, { color, fontSize: size, lineHeight: "18px" })}>{children}</span>
);

const Legend = () => (
  <div style={{ fontFamily: FONT }}>
    <svg style={abs(14, 51)} width="13" height="14" viewBox="0 0 13 14" fill="none" stroke="#787b86">
      <rect x="0.5" y="0.5" width="12" height="13" rx="1.5" /><path d="M3 7.5h7" />
    </svg>
    <svg style={abs(37, 51)} width="12" height="14" viewBox="0 0 12 14">
      <path d="M0 0h12L8 7l4 7H0z" fill="#ef5350" />
    </svg>
    <L x={53} y={58} size={15.3} color="#c5cbce">Litecoin / TetherUS · 240 · BINANCE</L>
    <Chevron x={308} y={55} color="#9598a1" />
    <L x={333} y={58} size={12.8}>O</L><L x={344} y={58} size={12.8} color="#ef5350">131.14</L>
    <L x={392} y={58} size={12.8}>H</L><L x={403} y={58} size={12.8} color="#ef5350">131.59</L>
    <L x={451} y={58} size={12.8}>L</L><L x={460} y={58} size={12.8} color="#ef5350">118.74</L>
    <L x={507} y={58} size={12.8}>C</L><L x={517} y={58} size={12.8} color="#ef5350">118.99</L>
    <L x={566} y={58} size={12.7} color="#ef5350">−12.10 (−9.23%)</L>

    <L x={14} y={82} size={13.6}>DMA (350, 7, 25, close, close, close, 3, 5, 5)</L>
    <Chevron x={276} y={80} color="#9598a1" />
    <IconBoxes x={295} y={75} n={4} />
    <L x={368} y={82} color="#ffe0b2">105.52</L>
    <L x={415} y={82}>n/a</L>
    <L x={444} y={82}>n/a</L>

    <L x={14} y={106}>Vol (20)</L>
    <Chevron x={64} y={104} color="#9598a1" />
    <IconBoxes x={83} y={99} n={3} />
    <L x={138} y={106} color="#ef5350">80.498K</L>
    <L x={193} y={106} color="#ff9a3c">71.99K</L>

    <L x={14} y={130}>EMA (21, close)</L>
    <Chevron x={107} y={128} color="#9598a1" />
    <IconBoxes x={126} y={123} n={3} />
    <L x={183} y={130} color="#2196f3">133.97</L>

    <L x={14} y={653}>MACD (12, 26, close, 9)</L>
    <Chevron x={154} y={651} color="#9598a1" />
    <IconBoxes x={173} y={646} n={4} />
    <L x={246} y={653} color="#ef5350">−1.20</L>
    <L x={286} y={653} color="#2196f3">−2.13</L>
    <L x={326} y={653} color="#ff6d00">−0.94</L>
  </div>
);

export default function App() {
  const priceRef = useRef<HTMLCanvasElement | null>(null);
  const macdRef = useRef<HTMLCanvasElement | null>(null);
  usePriceChart(priceRef);
  useMacdChart(macdRef);
  return (
    <div style={{ position: "fixed", left: 0, top: 0, width: 1547, height: 870, background: "#000", overflow: "hidden" }}>
      <canvas ref={priceRef} width={1547} height={597} style={{ position: "absolute", left: 0, top: 39, display: "block" }} />
      <canvas ref={macdRef} width={1547} height={228} style={{ position: "absolute", left: 0, top: 637, display: "block" }} />
      <div style={abs(2, 636, { width: 1539, height: 1, background: AXIS })} />
      <div style={abs(2, 838, { width: 1539, height: 1, background: AXIS })} />
      <div style={abs(1491, 838, { width: 1, height: 27, background: AXIS })} />
      <div style={abs(0, 38, { width: 1547, height: 1, background: "#363c4e" })} />
      <Toolbar />
      <Legend />
      <div style={abs(0, 39, { width: 2, height: 831, background: "#2a2e39" })} />
      <div style={abs(1541, 39, { width: 6, height: 831, background: "#2a2e39" })} />
      <div style={abs(0, 865, { width: 1547, height: 5, background: "#1e222d" })} />
      <svg style={abs(1507, 845)} width="16" height="16" viewBox="0 0 16 16" fill="none" stroke="#787b86" strokeWidth="1">
        <circle cx="8" cy="8" r="5" />
        <path d="M8 0v3M8 13v3M0 8h3M13 8h3M2.3 2.3l2 2M11.7 11.7l2 2M13.7 2.3l-2 2M4.3 11.7l-2 2" />
      </svg>
    </div>
  );
}
